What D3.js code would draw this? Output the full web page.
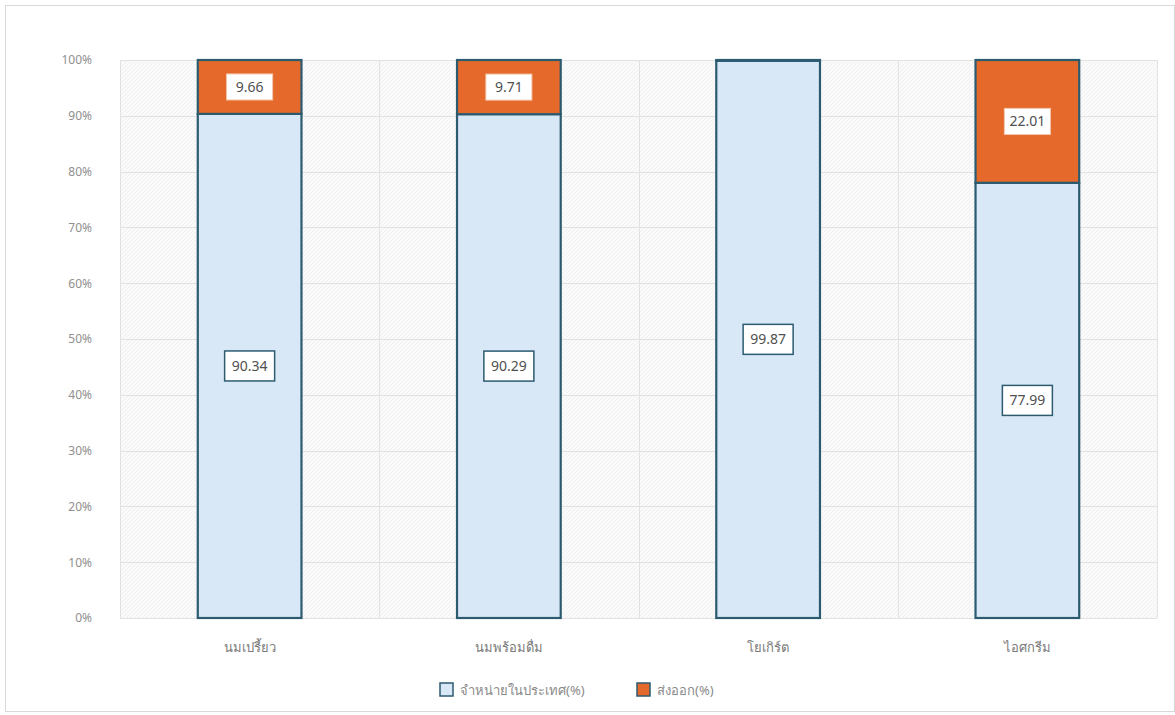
<!DOCTYPE html>
<html lang="th">
<head>
  <meta charset="UTF-8">
  <title>Stacked 100% chart</title>
  <style>
    body { margin: 0; background: #ffffff; }
    .axis text {
      font-family: "Noto Sans", sans-serif;
      font-size: 12px;
      fill: #8f8f8f;
    }
    .axis.x text { font-size: 13px; fill: #7a7a7a; }
    .axis path, .axis line { display: none; }
    .lbl {
      font-family: "Noto Sans", sans-serif;
      font-size: 14px;
      fill: #505050;
    }
    .legend text {
      font-family: "Noto Sans", sans-serif;
      font-size: 13px;
      fill: #8a8a8a;
    }
  </style>
</head>
<body>
<svg id="graph" width="1175" height="715"></svg>

<script src="https://cdn.jsdelivr.net/npm/d3@7"></script>
<script>
  "use strict";

  var categories = ["นมเปรี้ยว", "นมพร้อมดื่ม", "โยเกิร์ต", "ไอศกรีม"];
  var domestic = [90.34, 90.29, 99.87, 77.99];
  var exportPct = [9.66, 9.71, 0.13, 22.01];
  var seriesNames = ["จำหน่ายในประเทศ(%)", "ส่งออก(%)"];
  var yTicks = [0, 10, 20, 30, 40, 50, 60, 70, 80, 90, 100];

  var colors = ["#d9e8f6", "#e4692a"];
  var edge = "#2c5b70";

  var svg = d3.select("#graph");
  var margin = { left: 120, right: 18, top: 60, bottom: 97 };
  var W = 1175, H = 715;

  // outer frame
  svg.append("rect")
    .attr("x", 5.5).attr("y", 5.5)
    .attr("width", W - 6).attr("height", H - 9)
    .attr("fill", "#fff").attr("stroke", "#d9d9d9");

  var x = d3.scaleBand()
    .domain(categories)
    .range([margin.left, W - margin.right])
    .paddingInner(0.6).paddingOuter(0.3);

  var xCell = d3.scaleBand()
    .domain(categories)
    .range([margin.left, W - margin.right]);

  var y = d3.scaleLinear()
    .domain([0, 100])
    .range([H - margin.bottom, margin.top]);

  // faint hatched background
  var defs = svg.append("defs");
  var pat = defs.append("pattern")
    .attr("id", "hatch").attr("patternUnits", "userSpaceOnUse")
    .attr("width", 4).attr("height", 4);
  pat.append("rect").attr("width", 4).attr("height", 4).attr("fill", "#fafafa");
  pat.append("path").attr("d", "M0,4 L4,0").attr("stroke", "#ededed").attr("stroke-width", 0.8);

  svg.append("rect")
    .attr("x", margin.left).attr("y", margin.top)
    .attr("width", W - margin.right - margin.left)
    .attr("height", y(0) - y(100))
    .attr("fill", "url(#hatch)");

  // gridlines
  svg.append("g").selectAll("line").data(yTicks).enter().append("line")
    .attr("x1", margin.left).attr("x2", W - margin.right)
    .attr("y1", function(d){ return Math.round(y(d)) + 0.5; })
    .attr("y2", function(d){ return Math.round(y(d)) + 0.5; })
    .attr("stroke", "#e2e2e2");

  svg.append("g").selectAll("line").data(categories).enter().append("line")
    .attr("x1", function(d){ return Math.round(xCell(d)) + 0.5; })
    .attr("x2", function(d){ return Math.round(xCell(d)) + 0.5; })
    .attr("y1", y(100)).attr("y2", y(0))
    .attr("stroke", "#e2e2e2");
  svg.append("line")
    .attr("x1", W - margin.right + 0.5).attr("x2", W - margin.right + 0.5)
    .attr("y1", y(100)).attr("y2", y(0)).attr("stroke", "#e2e2e2");

  // axes
  svg.append("g").attr("class", "axis")
    .attr("transform", "translate(" + (margin.left - 25) + ",0)")
    .call(d3.axisLeft(y).tickValues(yTicks).tickSize(0).tickFormat(function(d){ return d + "%"; }));

  svg.append("g").attr("class", "axis x")
    .attr("transform", "translate(0," + (y(0) + 22) + ")")
    .call(d3.axisBottom(x).tickSize(0));

  // stacked bars
  var rows = categories.map(function(c, i){ return { cat: c, dom: domestic[i], exp: exportPct[i] }; });
  var stacked = d3.stack().keys(["dom", "exp"])(rows);

  var layers = svg.append("g").selectAll("g").data(stacked).enter().append("g")
    .attr("fill", function(d, i){ return colors[i]; });

  layers.selectAll("rect").data(function(d){ return d; }).enter().append("rect")
    .attr("x", function(d){ return x(d.data.cat); })
    .attr("width", x.bandwidth())
    .attr("y", function(d){ return y(d[1]); })
    .attr("height", function(d){ return y(d[0]) - y(d[1]); })
    .attr("stroke", edge).attr("stroke-width", 2.2);

  // data labels
  stacked.forEach(function(layer, li){
    layer.forEach(function(d){
      var v = d[1] - d[0];
      if (v < 1) return;
      var cx = x(d.data.cat) + x.bandwidth() / 2;
      var cy = y((d[0] + d[1]) / 2);
      var bw = li === 0 ? 50 : 46, bh = li === 0 ? 30 : 26;
      svg.append("rect")
        .attr("x", cx - bw / 2).attr("y", cy - bh / 2)
        .attr("width", bw).attr("height", bh)
        .attr("fill", "#fff")
        .attr("stroke", li === 0 ? edge : "#f3c9b0")
        .attr("stroke-width", li === 0 ? 1.5 : 1);
      svg.append("text").attr("class", "lbl")
        .attr("x", cx).attr("y", cy)
        .attr("text-anchor", "middle").attr("dy", "0.35em")
        .text(v.toFixed(2));
    });
  });

  // legend
  var legend = svg.append("g").attr("class", "legend");
  var lx = [440, 637];
  seriesNames.forEach(function(n, i){
    legend.append("rect")
      .attr("x", lx[i]).attr("y", 683)
      .attr("width", 13).attr("height", 13)
      .attr("fill", colors[i]).attr("stroke", edge).attr("stroke-width", 1.5);
    legend.append("text")
      .attr("x", lx[i] + 20).attr("y", 690).attr("dy", "0.35em")
      .text(n);
  });
</script>
</body>
</html>
